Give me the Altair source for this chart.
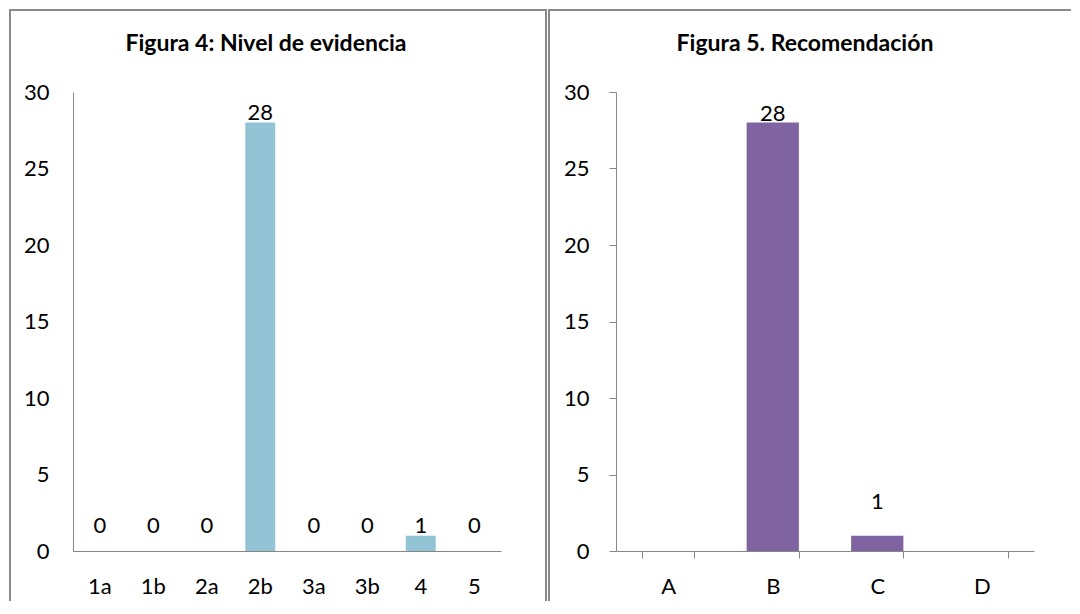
import altair as alt
import pandas as pd

# ---- data ----
left_categories = ["1a", "1b", "2a", "2b", "3a", "3b", "4", "5"]
left_values = [0, 0, 0, 28, 0, 0, 1, 0]
right_categories = ["A", "B", "C", "D"]
right_values = [0, 28, 1, 0]
y_ticks = [0, 5, 10, 15, 20, 25, 30]
left_title = "Figura 4: Nivel de evidencia"
right_title = "Figura 5. Recomendación"

FONT = "Lato"
FS = 22
AXIS_GRAY = "#868686"
BORDER_GRAY = "#8a8a8a"
H = 459
LW = 428
RW = 418

left_df = pd.DataFrame({"cat": left_categories, "v": left_values})
right_df = pd.DataFrame({"cat": right_categories, "v": right_values})
one_row = pd.DataFrame({"k": [0]})


def vrule(x, y1, y2):
    return alt.Chart(one_row).mark_rule(color=BORDER_GRAY, strokeWidth=2).encode(
        x=alt.value(x), y=alt.value(y1), y2=alt.value(y2))


def hrule(x1, x2, y):
    return alt.Chart(one_row).mark_rule(color=BORDER_GRAY, strokeWidth=2).encode(
        x=alt.value(x1), x2=alt.value(x2), y=alt.value(y))


def title_mark(text, x, y):
    return alt.Chart(pd.DataFrame({"t": [text]})).mark_text(
        font=FONT, fontSize=23, fontWeight="bold", baseline="middle",
        align="center", color="black").encode(
        x=alt.value(x), y=alt.value(y), text="t:N")


yscale = alt.Scale(domain=[0, 30], nice=False)

# ---- left panel ----
left_xaxis = alt.Axis(title=None, labelAngle=0, ticks=False, domainColor=AXIS_GRAY,
                      labelPadding=25, labelFontSize=FS, labelFont=FONT, labelColor="black")
left_yaxis = alt.Axis(title=None, values=y_ticks, grid=False, ticks=False,
                      domainColor=AXIS_GRAY, labelPadding=24, labelFontSize=FS,
                      labelFont=FONT, labelColor="black")
left_xscale = alt.Scale(paddingInner=0.44, paddingOuter=0.22)

left_bars = alt.Chart(left_df).mark_bar(color="#93C4D6").encode(
    x=alt.X("cat:N", sort=left_categories, scale=left_xscale, axis=left_xaxis),
    y=alt.Y("v:Q", scale=yscale, axis=left_yaxis),
)
left_labels = alt.Chart(left_df).transform_calculate(
    ly="max(datum.v, 1)"
).mark_text(font=FONT, fontSize=FS, baseline="alphabetic", dy=-3, color="black").encode(
    x=alt.X("cat:N", sort=left_categories, scale=left_xscale, axis=left_xaxis),
    y=alt.Y("ly:Q", scale=yscale, axis=left_yaxis),
    text="v:Q",
)
left = alt.layer(
    left_bars, left_labels,
    title_mark(left_title, 193, -48),
    vrule(-63, -83, H + 50),
    hrule(-64, 474, -82),
    vrule(473, -83, H + 50),
).properties(width=LW, height=H)

# ---- right panel ----
right_xaxis = alt.Axis(title=None, labelAngle=0, ticks=True, tickBand="extent",
                       tickSize=7, tickColor=AXIS_GRAY, domainColor=AXIS_GRAY,
                       labelPadding=18, labelFontSize=FS, labelFont=FONT, labelColor="black")
right_yaxis = alt.Axis(title=None, values=y_ticks, grid=False, ticks=True, tickSize=7,
                       tickColor=AXIS_GRAY, domainColor=AXIS_GRAY, labelPadding=20,
                       labelFontSize=FS, labelFont=FONT, labelColor="black")
right_xscale = alt.Scale(paddingInner=0.5, paddingOuter=0.25)

right_bars = alt.Chart(right_df).mark_bar(color="#8064A2").encode(
    x=alt.X("cat:N", sort=right_categories, scale=right_xscale, axis=right_xaxis),
    y=alt.Y("v:Q", scale=yscale, axis=right_yaxis),
)
right_labels = alt.Chart(right_df).transform_filter(
    "datum.v > 0"
).transform_calculate(
    ly="datum.v < 5 ? datum.v + 1.6 : datum.v"
).mark_text(font=FONT, fontSize=FS, baseline="alphabetic", dy=-2, color="black").encode(
    x=alt.X("cat:N", sort=right_categories, scale=right_xscale, axis=right_xaxis),
    y=alt.Y("ly:Q", scale=yscale, axis=right_yaxis),
    text="v:Q",
)
right = alt.layer(
    right_bars, right_labels,
    title_mark(right_title, 189, -48),
    vrule(-67, -83, H + 50),
    hrule(-68, 455, -82),
).properties(width=RW, height=H)

chart = alt.hconcat(left, right, spacing=115, bounds="flush").properties(
    padding=0
).configure_view(strokeWidth=0)

chart.save("out.html", embed_options={"renderer": "svg", "actions": False})
